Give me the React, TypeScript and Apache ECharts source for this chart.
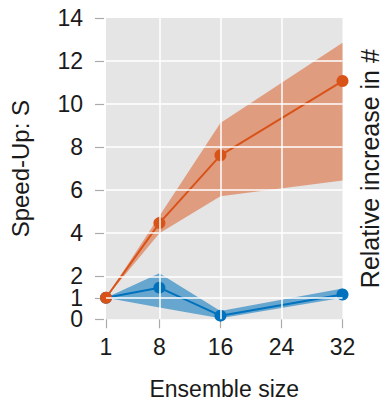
import React, { useEffect, useRef } from "react";
import * as echarts from "echarts";

const xValues = [1, 8, 16, 32];
const orangeMean = [1, 4.47, 7.62, 11.07];
const orangeLow = [1, 4.0, 5.72, 6.45];
const orangeHigh = [1, 4.8, 9.12, 12.85];
const blueMean = [1, 1.47, 0.17, 1.15];
const blueLow = [1, 0.55, 0.05, 1.0];
const blueHigh = [1, 2.14, 0.38, 1.43];
const yTicks = [0, 1, 2, 4, 6, 8, 10, 12, 14];
const yLabelsMain = [0, 2, 4, 6, 8, 10, 12, 14];
const yLabelsExtra = [1];
const xTicks = [1, 8, 16, 24, 32];
const yGrid = [1, 2, 4, 6, 8, 10, 12];
const xGrid = [8, 16, 24];

const ORANGE = "#D95319";
const BLUE = "#0072BD";
const FONT = "Liberation Sans";

function bandSeries(low: number[], high: number[], fill: string) {
  return {
    type: "custom",
    silent: true,
    z: 2,
    data: xValues.map((x, i) => [x, low[i], high[i]]),
    encode: { x: 0, y: [1, 2] },
    renderItem: (params: any, api: any) => {
      if (params.dataIndex !== 0) return null;
      const pts: number[][] = [];
      xValues.forEach((x, i) => pts.push(api.coord([x, high[i]])));
      for (let i = xValues.length - 1; i >= 0; i--) pts.push(api.coord([xValues[i], low[i]]));
      return { type: "polygon", shape: { points: pts }, style: { fill } };
    },
  };
}

function lineSeries(mean: number[], color: string, z: number) {
  return {
    type: "line",
    z,
    data: xValues.map((x, i) => [x, mean[i]]),
    symbol: "circle",
    symbolSize: 12,
    showSymbol: true,
    itemStyle: { color },
    lineStyle: { color, width: 2 },
  };
}

export default function App() {
  const ref = useRef<HTMLDivElement>(null);
  useEffect(() => {
    document.body.style.margin = "0";
    const chart = echarts.init(ref.current!, null, { renderer: "svg" });
    const tickStyle = { show: true, length: 9, lineStyle: { color: "#aaaaaa", width: 1.2 } };
    const yLabelStyle = {
      showMinLabel: true,
      showMaxLabel: true,
      hideOverlap: false,
      margin: 21,
      fontSize: 23,
      fontFamily: FONT,
      color: "#1a1a1a",
    };
    chart.setOption({
      animation: false,
      grid: {
        left: 106,
        right: 48.5,
        top: 18,
        bottom: 82.7,
        show: true,
        backgroundColor: "#E5E5E5",
        borderWidth: 0,
        containLabel: false,
        outerBoundsMode: "none",
      },
      xAxis: {
        type: "value",
        min: 1,
        max: 32,
        offset: 2,
        axisLine: { show: false },
        axisTick: { ...tickStyle, customValues: xTicks },
        axisLabel: {
          customValues: xTicks,
          showMinLabel: true,
          showMaxLabel: true,
          hideOverlap: false,
          margin: 14,
          fontSize: 23,
          fontFamily: FONT,
          color: "#1a1a1a",
        },
        splitLine: { show: false },
        name: "Ensemble size",
        nameLocation: "middle",
        nameGap: 56,
        nameTextStyle: { fontSize: 23, fontFamily: FONT, color: "#1a1a1a" },
      },
      yAxis: [
        {
          type: "value",
          position: "left",
          min: 0,
          max: 14,
          offset: 2,
          axisLine: { show: false },
          axisTick: { ...tickStyle, customValues: yTicks },
          axisLabel: { ...yLabelStyle, customValues: yLabelsMain },
          splitLine: { show: false },
          name: "Speed-Up: S",
          nameLocation: "middle",
          nameGap: 72,
          nameRotate: 90,
          nameTextStyle: { fontSize: 24, fontFamily: FONT, color: "#1a1a1a" },
        },
        {
          type: "value",
          position: "right",
          min: 0,
          max: 14,
          axisLine: { show: false },
          axisTick: { show: false },
          axisLabel: { show: false },
          splitLine: { show: false },
          name: "Relative increase in #",
          nameLocation: "middle",
          nameGap: 15,
          nameRotate: 90,
          nameTextStyle: { fontSize: 25, fontFamily: FONT, color: "#1a1a1a" },
        },
        {
          type: "value",
          position: "left",
          min: 0,
          max: 14,
          offset: 2,
          axisLine: { show: false },
          axisTick: { show: false },
          axisLabel: { ...yLabelStyle, customValues: yLabelsExtra },
          splitLine: { show: false },
        },
      ],
      series: [
        {
          type: "line",
          z: 1,
          data: [],
          silent: true,
          markLine: {
            silent: true,
            symbol: "none",
            label: { show: false },
            lineStyle: { color: "#ffffff", width: 1.5, type: "solid" },
            data: [
              ...yGrid.map((v) => ({ yAxis: v })),
              ...xGrid.map((v) => ({ xAxis: v })),
            ],
          },
        },
        bandSeries(blueLow, blueHigh, "rgba(0,114,189,0.55)"),
        bandSeries(orangeLow, orangeHigh, "rgba(217,83,25,0.5)"),
        lineSeries(blueMean, BLUE, 3),
        lineSeries(orangeMean, ORANGE, 4),
      ],
    });
    return () => chart.dispose();
  }, []);
  return <div ref={ref} style={{ width: 391, height: 402 }} />;
}
